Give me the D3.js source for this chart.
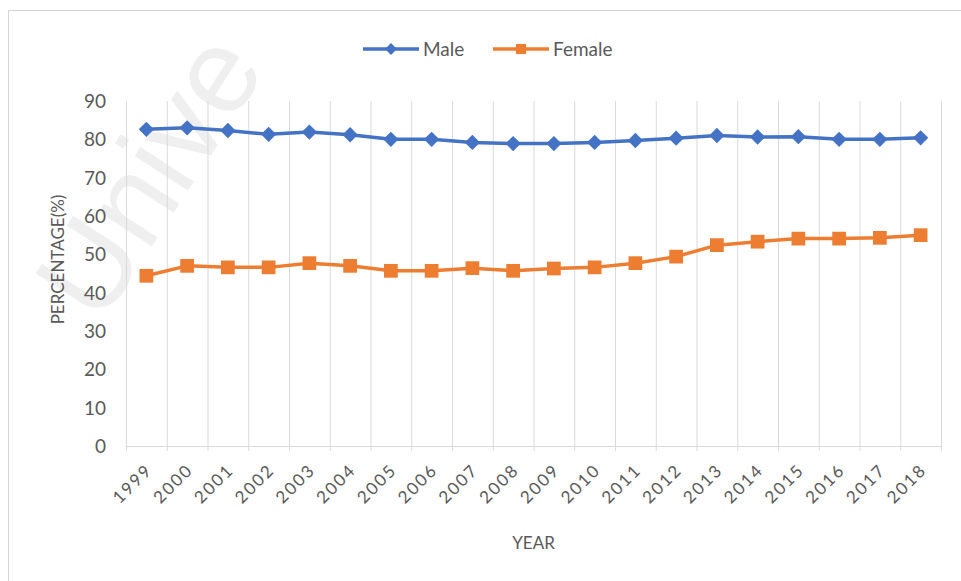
<!DOCTYPE html>
<html>
<head>
<meta charset="utf-8">
<script src="https://cdn.jsdelivr.net/npm/d3@7/dist/d3.min.js"></script>
<style>
  body { margin: 0; background: #fff; }
  svg { display: block; }
  text { font-family: Lato, "Open Sans", sans-serif; fill: #595959; }
</style>
</head>
<body>
<svg id="chart" width="961" height="581"></svg>
<script>
// Share of population (%) by sex, 1999–2018
const years = ["1999","2000","2001","2002","2003","2004","2005","2006","2007","2008",
               "2009","2010","2011","2012","2013","2014","2015","2016","2017","2018"];
const male = [82.6, 83.0, 82.3, 81.3, 81.9, 81.2, 80.0, 80.0, 79.2, 78.9,
              78.9, 79.2, 79.7, 80.3, 81.0, 80.6, 80.7, 80.0, 80.0, 80.4];
const female = [44.4, 47.0, 46.6, 46.6, 47.7, 47.0, 45.7, 45.7, 46.4, 45.7,
                46.3, 46.6, 47.7, 49.4, 52.4, 53.3, 54.1, 54.1, 54.3, 55.0];
const yTicks = [0, 10, 20, 30, 40, 50, 60, 70, 80, 90];
const seriesNames = ["Male", "Female"];
const seriesColors = ["#4472C4", "#ED7D31"];

const svg = d3.select("#chart");
const W = 961, H = 581;
const plot = { left: 126, right: 941, top: 101, bottom: 446 };

// faint background lettering
svg.append("text")
  .attr("transform", "translate(100,326) rotate(-57)")
  .style("font-family", "'Liberation Sans', sans-serif")
  .style("font-size", "120px")
  .style("fill", "#efefef")
  .text("Unive");

// outer frame
svg.append("rect")
  .attr("x", 8.5).attr("y", 10.5)
  .attr("width", W).attr("height", H)
  .attr("fill", "none").attr("stroke", "#d4d4d4").attr("stroke-width", 1);

const x = d3.scaleBand().domain(years).range([plot.left, plot.right]).padding(0);
const y = d3.scaleLinear().domain([0, 90]).range([plot.bottom, plot.top]);
const cx = d => x(d) + x.bandwidth() / 2;

// vertical gridlines at category boundaries
const bounds = years.map(d => x(d)).concat([plot.right]);
svg.append("g").selectAll("line").data(bounds).join("line")
  .attr("x1", d => d + 0.5).attr("x2", d => d + 0.5)
  .attr("y1", plot.top).attr("y2", plot.bottom + 5)
  .attr("stroke", "#d9d9d9").attr("stroke-width", 1);

// category axis line
svg.append("line")
  .attr("x1", plot.left).attr("x2", plot.right)
  .attr("y1", plot.bottom + 0.5).attr("y2", plot.bottom + 0.5)
  .attr("stroke", "#d9d9d9").attr("stroke-width", 1);

// value axis
const yAxis = d3.axisLeft(y).tickValues(yTicks).tickSize(0).tickPadding(0);
const yg = svg.append("g").attr("transform", `translate(${plot.left - 20},0)`).call(yAxis);
yg.select(".domain").remove();
yg.selectAll("text")
  .style("font-family", "Lato, sans-serif")
  .style("font-size", "19px")
  .attr("fill", "#595959")
  .attr("dy", "0.35em");

// category axis labels
const xAxis = d3.axisBottom(x).tickSize(0).tickPadding(0);
const xg = svg.append("g").attr("transform", `translate(0,${plot.bottom})`).call(xAxis);
xg.select(".domain").remove();
xg.selectAll("text")
  .style("font-family", "Lato, sans-serif")
  .style("font-size", "17px")
  .style("letter-spacing", "2px")
  .attr("fill", "#595959")
  .attr("text-anchor", "end")
  .attr("dy", null).attr("y", null)
  .attr("transform", "translate(7,25) rotate(-45)");

// axis titles
svg.append("text")
  .attr("transform", `translate(64,${(plot.top + plot.bottom) / 2 - 14}) rotate(-90)`)
  .attr("text-anchor", "middle")
  .style("font-size", "17px")
  .text("PERCENTAGE(%)");
svg.append("text")
  .attr("x", (plot.left + plot.right) / 2).attr("y", 549)
  .attr("text-anchor", "middle")
  .style("font-size", "17px")
  .text("YEAR");

// series
const line = d3.line().x((d, i) => cx(years[i])).y(d => y(d));
const diamond = d3.symbol().type(d3.symbolDiamond2).size(150);
const square = d3.symbol().type(d3.symbolSquare2).size(240);

[male, female].forEach((vals, s) => {
  const g = svg.append("g");
  g.append("path").datum(vals)
    .attr("d", line)
    .attr("fill", "none")
    .attr("stroke", seriesColors[s])
    .attr("stroke-width", 3.5)
    .attr("stroke-linejoin", "round");
  g.selectAll("path.mark").data(vals).join("path")
    .attr("class", "mark")
    .attr("transform", (d, i) => `translate(${cx(years[i])},${y(d)})`)
    .attr("d", s === 0 ? diamond : square)
    .attr("fill", seriesColors[s]);
});

// legend
const legend = [
  { x0: 363, name: seriesNames[0], color: seriesColors[0], sym: d3.symbol().type(d3.symbolDiamond2).size(90) },
  { x0: 493, name: seriesNames[1], color: seriesColors[1], sym: d3.symbol().type(d3.symbolSquare2).size(130) }
];
const lg = svg.append("g");
legend.forEach(l => {
  lg.append("line")
    .attr("x1", l.x0).attr("x2", l.x0 + 56)
    .attr("y1", 49).attr("y2", 49)
    .attr("stroke", l.color).attr("stroke-width", 3.5);
  lg.append("path")
    .attr("transform", `translate(${l.x0 + 28},49)`)
    .attr("d", l.sym).attr("fill", l.color);
  lg.append("text")
    .attr("x", l.x0 + 60).attr("y", 56)
    .style("font-size", "19px")
    .text(l.name);
});
</script>
</body>
</html>
